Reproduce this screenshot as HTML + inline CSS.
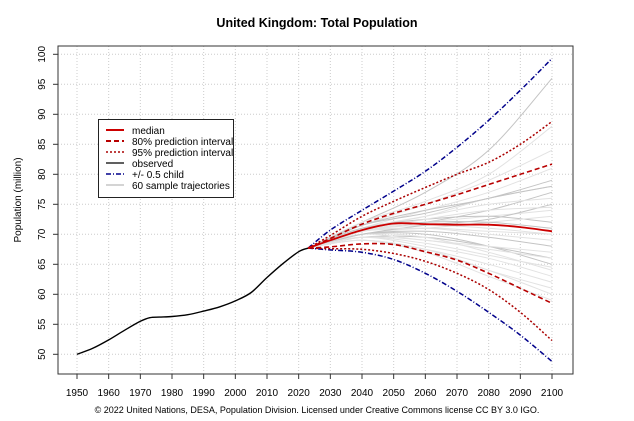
<!DOCTYPE html>
<html><head><meta charset="utf-8"><style>
body{margin:0;background:#fff;}
svg text{font-family:"Liberation Sans",sans-serif;}
</style></head><body>
<svg id="c" width="634" height="416" viewBox="0 0 634 416" xmlns="http://www.w3.org/2000/svg">
<text x="317" y="27" text-anchor="middle" font-size="12.5" font-weight="bold">United Kingdom: Total Population</text>
<text x="317" y="413" text-anchor="middle" font-size="9">© 2022 United Nations, DESA, Population Division. Licensed under Creative Commons license CC BY 3.0 IGO.</text>
<text transform="translate(21,200) rotate(-90)" text-anchor="middle" font-size="10">Population (million)</text>
<g id="grid"></g><g id="samples"></g><g id="series"></g><g id="axes"></g>
<rect x="58" y="46" width="515" height="328" fill="none" stroke="#333" stroke-width="1"/>
<g>
<rect x="98.5" y="119.5" width="135" height="78" fill="#fff" stroke="#222"/>
<line x1="106" y1="130" x2="124" y2="130" stroke="#c00" stroke-width="2"/>
<line x1="106" y1="141" x2="124" y2="141" stroke="#b80000" stroke-width="2" stroke-dasharray="5,3"/>
<line x1="106" y1="152" x2="124" y2="152" stroke="#a00" stroke-width="1.5" stroke-dasharray="2,2"/>
<line x1="106" y1="163" x2="124" y2="163" stroke="#000" stroke-width="1.3"/>
<line x1="106" y1="174" x2="124" y2="174" stroke="#00008b" stroke-width="1.5" stroke-dasharray="5,2,1,2"/>
<line x1="106" y1="185" x2="124" y2="185" stroke="#aaa" stroke-width="1"/>
<g font-size="10">
<text x="132" y="134">median</text>
<text x="132" y="145">80% prediction interval</text>
<text x="132" y="156">95% prediction interval</text>
<text x="132" y="167">observed</text>
<text x="132" y="178">+/- 0.5 child</text>
<text x="132" y="189">60 sample trajectories</text>
</g></g>
</svg>
<script>
const xTicks=[1950,1960,1970,1980,1990,2000,2010,2020,2030,2040,2050,2060,2070,2080,2090,2100];
const yTicks=[50,55,60,65,70,75,80,85,90,95,100];
const obsYears=[1950,1955,1960,1965,1970,1973,1976,1980,1985,1990,1995,2000,2005,2010,2015,2020,2023];
const obsVals=[50,51,52.4,54,55.5,56.1,56.2,56.3,56.6,57.2,57.9,58.9,60.3,62.8,65.1,67.1,67.7];
const projYears=[2023,2030,2040,2050,2060,2070,2080,2090,2100];
const median=[67.7,69,70.7,71.8,71.7,71.6,71.6,71.2,70.5];
const pi80Upper=[67.7,69.3,71.7,73.5,75,76.6,78.3,80,81.7];
const pi80Lower=[67.7,67.9,68.4,68.3,67.1,65.7,63.5,61,58.5];
const pi95Upper=[67.7,69.8,73,75.5,77.8,80,82,85,88.8];
const pi95Lower=[67.7,67.6,67.5,66.8,65.5,63.5,60.8,57,52.3];
const childUpper=[67.7,70.7,74,77.2,80.5,84.5,89,94,99.3];
const childLower=[67.7,67.4,67,65.8,63.5,60.5,57,53.2,48.8];
const sampleYears=[2023,2040,2060,2080,2100];
const sampleVals=[
[67.7,72,77,84,96],[67.7,71.5,75,79,84],[67.7,71,74,77,81],[67.7,70.5,72,74,77],[67.7,71,73,76,78],
[67.7,70,71,70.5,70],[67.7,69.5,69.5,68,66],[67.7,70.5,72,73,74],[67.7,69,67.5,65,62],[67.7,71,72.5,73,72],
[67.7,69.5,68,66,63],[67.7,70,69.5,67,64],[67.7,71.5,73.5,76,78],[67.7,69,67,63,59],[67.7,70.5,71.5,71,70],
[67.7,70,70.5,69.5,68],[67.7,69,67.5,64,60],[67.7,72,75.5,80,88],[67.7,70,70,68,65],[67.7,71,73,75,76],
[67.7,69,67.5,64,61],[67.7,71.5,74,76,79],[67.7,70,69,68,67],[67.7,70.5,71,72,73],[67.7,70,71.5,72.5,75],
[67.7,69.5,69,67.5,66],[67.7,70.5,71,70,69],[67.7,71,72,72,71],[67.7,69.5,68.5,66.5,64.5],[67.7,70.5,72.5,74,74.5]];
const NS="http://www.w3.org/2000/svg";
const X=y=>77+(y-1950)*475/150;
const Y=v=>354.3-(v-50)*6;
function mk(t,a,p){const e=document.createElementNS(NS,t);for(const k in a)e.setAttribute(k,a[k]);p.appendChild(e);return e;}
const grid=document.getElementById('grid'),axes=document.getElementById('axes');
xTicks.forEach(t=>{
 const g=mk('line',{x1:X(t),x2:X(t),y1:46,y2:374,stroke:'#ccc','stroke-dasharray':'1,2'},grid);
 
 
 mk('line',{x1:X(t),x2:X(t),y1:374,y2:379,stroke:'#333'},axes);
 const l=mk('text',{x:X(t),y:396,'text-anchor':'middle','font-size':'10'},axes);l.textContent=t;
 
 
});
yTicks.forEach(t=>{
 const g=mk('line',{x1:58,x2:573,y1:Y(t),y2:Y(t),stroke:'#ccc','stroke-dasharray':'1,2'},grid);
 
 
 mk('line',{x1:53,x2:58,y1:Y(t),y2:Y(t),stroke:'#333'},axes);
 const l=mk('text',{x:0,y:0,'text-anchor':'middle','font-size':'10',transform:`translate(${45},${Y(t)}) rotate(-90)`},axes);l.textContent=t;
 
 
});
function path(xs,vs,attrs,parent,name){
 const P=xs.map((x,i)=>[X(x),Y(vs[i])]);
 let d='M'+P[0][0].toFixed(1)+','+P[0][1].toFixed(1);
 for(let i=0;i<P.length-1;i++){
  const p0=P[i-1]||P[i],p1=P[i],p2=P[i+1],p3=P[i+2]||P[i+1];
  const c1=[p1[0]+(p2[0]-p0[0])/6,p1[1]+(p2[1]-p0[1])/6];
  const c2=[p2[0]-(p3[0]-p1[0])/6,p2[1]-(p3[1]-p1[1])/6];
  d+='C'+c1.map(v=>v.toFixed(1)).join(',')+' '+c2.map(v=>v.toFixed(1)).join(',')+' '+p2.map(v=>v.toFixed(1)).join(',');
 }
 const p=mk('path',Object.assign({d:d,fill:'none'},attrs),parent);
 
 
 return p;
}
const sg=document.getElementById('samples');
sampleVals.forEach((s,i)=>path(sampleYears,s,{stroke:i%3?'#e2e2e2':'#c4c4c4','stroke-width':1},sg,'sample-trajectory'));
const sr=document.getElementById('series');
path(obsYears,obsVals,{stroke:'#000','stroke-width':1.4},sr,'observed-line');
path(projYears,childUpper,{stroke:'#00008b','stroke-width':1.5,'stroke-dasharray':'5,2,1,2'},sr,'half-child-upper');
path(projYears,childLower,{stroke:'#00008b','stroke-width':1.5,'stroke-dasharray':'5,2,1,2'},sr,'half-child-lower');
path(projYears,pi95Upper,{stroke:'#a00','stroke-width':1.5,'stroke-dasharray':'2,2'},sr,'pi95-upper');
path(projYears,pi95Lower,{stroke:'#a00','stroke-width':1.5,'stroke-dasharray':'2,2'},sr,'pi95-lower');
path(projYears,pi80Upper,{stroke:'#b80000','stroke-width':1.6,'stroke-dasharray':'5,3'},sr,'pi80-upper');
path(projYears,pi80Lower,{stroke:'#b80000','stroke-width':1.6,'stroke-dasharray':'5,3'},sr,'pi80-lower');
path(projYears,median,{stroke:'#c00','stroke-width':1.8},sr,'median-line');
</script>
</body></html>
